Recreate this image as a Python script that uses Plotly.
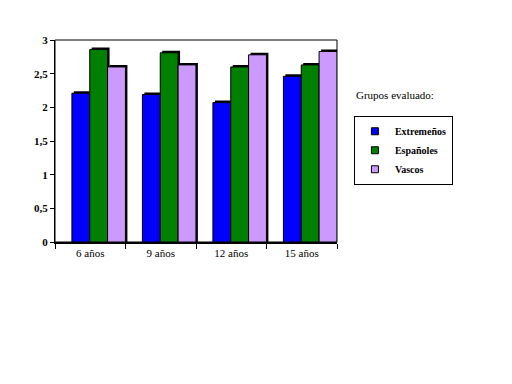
import plotly.graph_objects as go

categories = ["6 años", "9 años", "12 años", "15 años"]
series_names = ["Extremeños", "Españoles", "Vascos"]
extremenos = [2.21, 2.19, 2.07, 2.46]
espanoles = [2.86, 2.81, 2.60, 2.63]
vascos = [2.60, 2.63, 2.78, 2.83]
colors = ["#0000FF", "#008000", "#CC99FF"]
y_ticks = [0, 0.5, 1, 1.5, 2, 2.5, 3]

series = [extremenos, espanoles, vascos]
bar_w = 0.253
offsets = [-0.26, -0.007, 0.246]
dx, dy = 0.028, 0.03

font = "'Liberation Serif', 'Times New Roman', 'DejaVu Serif', serif"

fig = go.Figure()
# depth shadows
for vals, off in zip(series, offsets):
    fig.add_trace(go.Bar(x=categories, y=[v + dy for v in vals], width=bar_w, offset=off + dx,
                         marker=dict(color="#000000", line=dict(width=0)),
                         showlegend=False, hoverinfo="skip"))
for name, vals, off, c in zip(series_names, series, offsets, colors):
    fig.add_trace(go.Bar(x=categories, y=vals, name=name, width=bar_w, offset=off,
                         marker=dict(color=c, line=dict(color="#000000", width=1)),
                         showlegend=False))
# legend entries (small square keys)
for name, c in zip(series_names, colors):
    fig.add_trace(go.Scatter(x=[None], y=[None], mode="markers", name=name,
                             marker=dict(symbol="square", size=7, color=c,
                                         line=dict(color="black", width=1))))

fig.update_layout(
    width=512, height=384, barmode="overlay", separators=",.",
    margin=dict(l=47, r=183, t=32, b=150),
    paper_bgcolor="white", plot_bgcolor="white",
    font=dict(family=font, color="black", size=11),
    xaxis=dict(type="category", tickson="boundaries", ticks="outside", ticklen=5,
               tickcolor="black", showline=True, linecolor="black", linewidth=2,
               showgrid=False, tickfont=dict(size=11, family=font),
               range=[-0.5, 3.5]),
    yaxis=dict(range=[0, 3], tickvals=y_ticks, ticks="outside", ticklen=4,
               tickcolor="black", showline=True, linecolor="black", linewidth=1,
               showgrid=False, zeroline=False,
               tickfont=dict(size=11, family=font, weight="bold")),
    legend=dict(x=1.06, y=0.625, xanchor="left", yanchor="top",
                bordercolor="black", borderwidth=1, bgcolor="white",
                font=dict(size=10, family=font, weight="bold"),
                itemwidth=30, tracegroupgap=0),
    annotations=[dict(text="Grupos evaluado:", x=1.062, y=0.69, xref="paper", yref="paper",
                      xanchor="left", yanchor="bottom", showarrow=False,
                      font=dict(size=11, family=font))],
    shapes=[dict(type="rect", xref="paper", yref="paper", x0=0, x1=1, y0=0, y1=1,
                 line=dict(color="black", width=1), layer="below")],
)
fig.write_html("out.html")
